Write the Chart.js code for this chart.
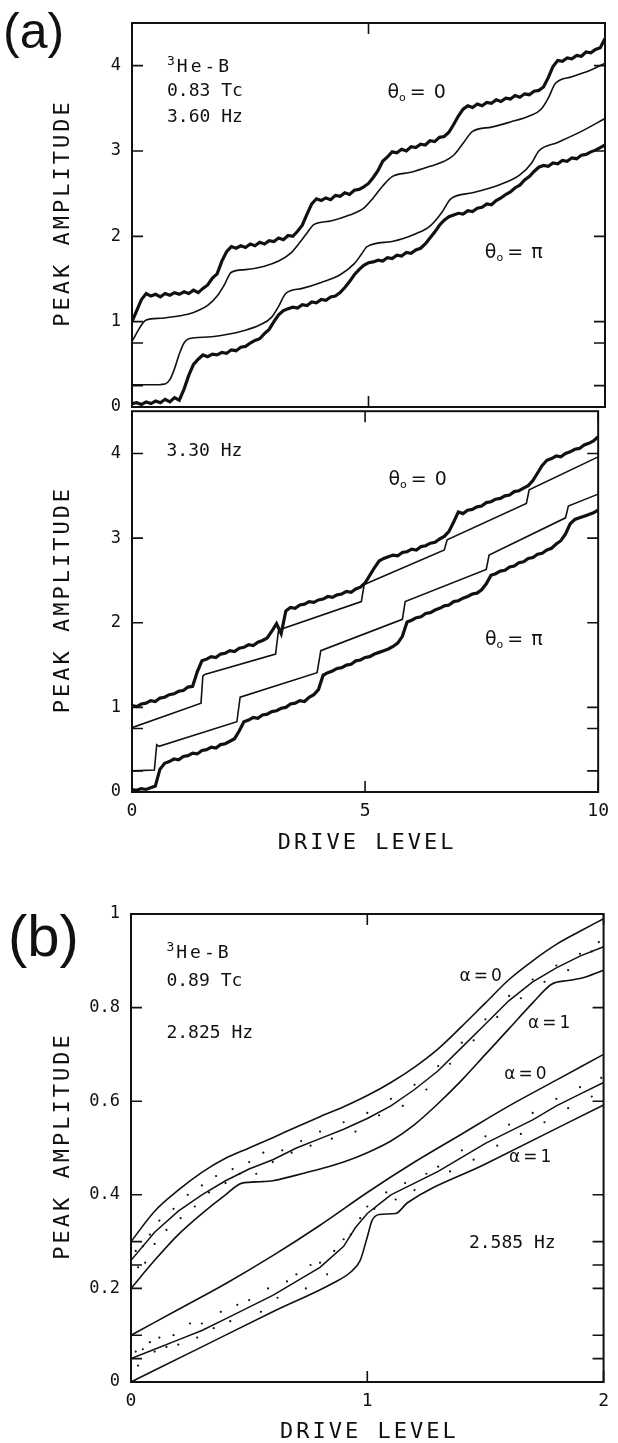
<!DOCTYPE html>
<html>
<head>
<meta charset="utf-8">
<title>Peak amplitude vs drive level</title>
<script src="https://cdn.jsdelivr.net/npm/chart.js@4.4.1/dist/chart.umd.min.js"></script>
<style>
  html, body { margin: 0; padding: 0; background: #fff; }
  #wrap { position: relative; width: 618px; height: 1443px; overflow: hidden; }
  canvas { position: absolute; left: 0; }
</style>
</head>
<body>
<div id="wrap">
  <canvas id="a1" width="618" height="430" style="top:0px"></canvas>
  <canvas id="a2" width="618" height="480" style="top:390px"></canvas>
  <canvas id="b" width="618" height="563" style="top:880px"></canvas>
</div>
<script>
// ---------------- data ----------------
// panel (a): drive level of the recorded traces
var driveA = [0,0.1,0.2,0.3,0.4,0.5,0.6,0.7,0.8,0.9,1,1.1,1.2,1.3,1.4,1.5,1.6,1.7,1.8,1.9,
  2,2.1,2.2,2.3,2.4,2.5,2.6,2.7,2.8,2.9,3,3.1,3.2,3.3,3.4,3.5,3.6,3.7,3.8,3.9,
  4,4.1,4.2,4.3,4.4,4.5,4.6,4.7,4.8,4.9,5,5.1,5.2,5.3,5.4,5.5,5.6,5.7,5.8,5.9,
  6,6.1,6.2,6.3,6.4,6.5,6.6,6.7,6.8,6.9,7,7.1,7.2,7.3,7.4,7.5,7.6,7.7,7.8,7.9,
  8,8.1,8.2,8.3,8.4,8.5,8.6,8.7,8.8,8.9,9,9.1,9.2,9.3,9.4,9.5,9.6,9.7,9.8,9.9,10];

// 3.60 Hz, measured
var amp360Zero = [1.00,1.13,1.26,1.33,1.30,1.32,1.29,1.33,1.31,1.34,1.32,1.35,1.33,1.37,1.34,1.39,1.43,1.51,1.56,1.71,
  1.82,1.88,1.86,1.89,1.87,1.91,1.89,1.93,1.91,1.95,1.94,1.98,1.96,2.01,2.00,2.06,2.13,2.26,2.38,2.44,
  2.42,2.45,2.43,2.48,2.47,2.51,2.49,2.54,2.55,2.58,2.62,2.69,2.77,2.88,2.93,2.99,2.98,3.02,3.00,3.05,
  3.04,3.08,3.07,3.12,3.11,3.16,3.17,3.22,3.31,3.41,3.49,3.53,3.51,3.55,3.53,3.57,3.56,3.60,3.58,3.62,
  3.61,3.65,3.63,3.67,3.66,3.70,3.71,3.75,3.86,3.99,4.06,4.05,4.09,4.08,4.12,4.11,4.16,4.15,4.19,4.21,4.32];
var amp360Pi = [0.04,0.05,0.03,0.06,0.04,0.07,0.05,0.09,0.06,0.11,0.08,0.21,0.37,0.50,0.56,0.61,0.59,0.62,0.61,0.64,
  0.63,0.67,0.66,0.70,0.71,0.75,0.78,0.80,0.86,0.91,1.00,1.08,1.13,1.15,1.17,1.16,1.20,1.19,1.23,1.22,
  1.26,1.25,1.29,1.30,1.34,1.40,1.47,1.55,1.61,1.66,1.69,1.70,1.72,1.71,1.75,1.74,1.78,1.77,1.81,1.80,
  1.84,1.86,1.91,1.98,2.05,2.13,2.19,2.23,2.25,2.27,2.26,2.30,2.29,2.33,2.34,2.38,2.37,2.42,2.45,2.49,
  2.52,2.57,2.60,2.66,2.70,2.76,2.81,2.83,2.82,2.86,2.85,2.89,2.88,2.92,2.91,2.95,2.96,2.99,3.01,3.04,3.07];

// 3.60 Hz, calculated
var sim360ZeroX = [0,0.3,0.6,0.9,1.2,1.4,1.6,1.8,1.95,2.1,2.4,2.8,3.1,3.35,3.55,3.7,3.85,4.2,4.6,4.9,
  5.1,5.3,5.5,5.9,6.3,6.6,6.8,7.0,7.2,7.6,8.0,8.4,8.65,8.8,8.95,9.3,9.7,10];
var sim360ZeroY = [0.77,1.02,1.04,1.06,1.09,1.13,1.19,1.30,1.43,1.58,1.61,1.65,1.71,1.80,1.93,2.04,2.14,2.18,2.25,2.33,
  2.45,2.59,2.70,2.75,2.82,2.88,2.95,3.09,3.23,3.28,3.34,3.41,3.49,3.62,3.79,3.87,3.95,4.03];
var sim360PiX = [0,0.4,0.7,0.8,0.9,1.0,1.1,1.2,1.6,2.0,2.4,2.7,2.95,3.1,3.25,3.6,4.0,4.4,4.7,4.85,
  4.97,5.5,6.0,6.3,6.55,6.74,7.2,7.8,8.2,8.45,8.6,9.0,9.5,10];
var sim360PiY = [0.26,0.26,0.27,0.32,0.45,0.62,0.75,0.80,0.82,0.85,0.90,0.96,1.05,1.18,1.33,1.39,1.46,1.55,1.68,1.79,
  1.88,1.94,2.03,2.12,2.28,2.44,2.51,2.61,2.72,2.86,3.00,3.10,3.23,3.38];

// 3.30 Hz, measured
var amp330Zero = [1.02,1.01,1.04,1.05,1.08,1.07,1.11,1.12,1.15,1.16,1.19,1.20,1.24,1.25,1.42,1.55,1.57,1.60,1.59,1.63,
  1.64,1.67,1.66,1.70,1.71,1.74,1.73,1.77,1.79,1.82,1.90,1.99,1.87,2.14,2.18,2.17,2.21,2.22,2.25,2.24,
  2.27,2.28,2.31,2.30,2.33,2.34,2.37,2.36,2.40,2.42,2.47,2.56,2.65,2.73,2.76,2.78,2.80,2.79,2.83,2.84,
  2.87,2.86,2.90,2.91,2.94,2.95,2.99,3.02,3.08,3.19,3.31,3.29,3.33,3.34,3.37,3.38,3.42,3.43,3.46,3.47,
  3.50,3.51,3.55,3.56,3.59,3.62,3.68,3.77,3.86,3.92,3.94,3.97,3.96,4.00,4.02,4.05,4.06,4.10,4.12,4.15,4.20];
var amp330Pi = [0.03,0.02,0.04,0.03,0.05,0.07,0.27,0.34,0.36,0.39,0.38,0.42,0.43,0.46,0.45,0.49,0.50,0.53,0.52,0.56,
  0.57,0.60,0.63,0.72,0.83,0.85,0.88,0.87,0.91,0.92,0.95,0.96,0.99,1.00,1.04,1.05,1.08,1.07,1.12,1.15,
  1.21,1.38,1.41,1.43,1.46,1.47,1.50,1.51,1.55,1.56,1.59,1.60,1.63,1.65,1.67,1.69,1.72,1.76,1.84,2.01,
  2.03,2.06,2.07,2.11,2.12,2.15,2.17,2.20,2.21,2.25,2.26,2.29,2.31,2.34,2.35,2.39,2.46,2.56,2.58,2.61,
  2.62,2.66,2.67,2.71,2.72,2.76,2.77,2.81,2.82,2.86,2.88,2.93,2.97,3.05,3.17,3.22,3.24,3.26,3.28,3.30,3.33];

// 3.30 Hz, calculated (straight runs with sudden steps)
var sim330ZeroX = [0,1.48,1.52,1.56,3.08,3.14,3.18,4.92,4.98,5.02,6.70,6.76,8.46,8.52,10];
var sim330ZeroY = [0.76,1.05,1.37,1.39,1.63,1.90,1.92,2.25,2.45,2.46,2.86,2.98,3.41,3.57,3.96];
var sim330PiX = [0,0.48,0.53,0.58,2.25,2.32,3.97,4.05,5.80,5.86,7.60,7.66,9.30,9.36,10];
var sim330PiY = [0.25,0.26,0.56,0.54,0.83,1.12,1.41,1.67,2.04,2.25,2.63,2.80,3.24,3.38,3.52];

// panel (b)
var driveB = [0,0.1,0.2,0.3,0.4,0.5,0.6,0.7,0.8,0.9,1,1.1,1.2,1.3,1.4,1.5,1.6,1.7,1.8,1.9,2];
var sim2825A0 = [0.30,0.365,0.41,0.448,0.478,0.50,0.522,0.545,0.567,0.588,0.612,0.64,0.673,0.712,0.76,0.81,0.86,0.90,0.935,0.963,0.99];
var amp2825 = [0.26,0.32,0.365,0.40,0.43,0.455,0.475,0.50,0.52,0.54,0.563,0.59,0.625,0.665,0.715,0.765,0.815,0.855,0.885,0.91,0.93];
var sim2825A1X = [0,0.1,0.2,0.3,0.4,0.47,0.55,0.6,0.7,0.8,0.9,1.0,1.1,1.2,1.3,1.4,1.5,1.6,1.7,1.78,1.85,1.9,2];
var sim2825A1Y = [0.20,0.26,0.315,0.36,0.40,0.425,0.428,0.43,0.442,0.455,0.47,0.49,0.515,0.55,0.595,0.645,0.70,0.755,0.81,0.85,0.858,0.862,0.88];
var sim2585A0X = [0,0.2,0.4,0.6,0.8,1.0,1.2,1.4,1.6,1.8,2];
var sim2585A0Y = [0.10,0.155,0.21,0.27,0.335,0.405,0.47,0.53,0.59,0.645,0.70];
var amp2585X = [0,0.1,0.2,0.3,0.4,0.5,0.6,0.7,0.8,0.9,0.95,1.0,1.05,1.1,1.2,1.3,1.4,1.5,1.6,1.7,1.8,1.9,2];
var amp2585Y = [0.05,0.07,0.09,0.11,0.135,0.16,0.185,0.215,0.245,0.29,0.33,0.36,0.38,0.40,0.425,0.45,0.48,0.51,0.535,0.56,0.59,0.615,0.64];
var sim2585A1X = [0,0.3,0.6,0.85,0.93,0.97,1.0,1.02,1.05,1.12,1.17,1.5,2];
var sim2585A1Y = [0,0.075,0.15,0.21,0.235,0.26,0.31,0.345,0.358,0.36,0.383,0.466,0.592];

// scattered readings around the two measured runs
var dots2825X = [0.02,0.03,0.05,0.06,0.08,0.1,0.12,0.15,0.18,0.21,0.24,0.27,0.3,0.33,0.36,0.4,0.43,0.46,0.5,0.53,
  0.56,0.6,0.64,0.68,0.72,0.76,0.8,0.85,0.9,0.95,1.0,1.05,1.1,1.15,1.2,1.25,1.3,1.35,1.4,1.45,
  1.5,1.55,1.6,1.65,1.7,1.75,1.8,1.85,1.9,1.95,1.98];
var dots2825Y = [0.28,0.245,0.29,0.255,0.315,0.295,0.345,0.325,0.37,0.35,0.40,0.375,0.42,0.405,0.44,0.425,0.455,0.445,0.47,0.445,
  0.49,0.47,0.495,0.49,0.515,0.505,0.535,0.52,0.555,0.535,0.575,0.57,0.605,0.59,0.635,0.625,0.675,0.68,0.725,0.73,
  0.775,0.78,0.825,0.82,0.86,0.855,0.89,0.88,0.915,0.92,0.94];
var dots2585X = [0.02,0.03,0.05,0.08,0.1,0.12,0.15,0.18,0.2,0.25,0.28,0.3,0.35,0.38,0.42,0.45,0.5,0.55,0.58,0.62,
  0.66,0.7,0.74,0.76,0.8,0.83,0.86,0.9,0.93,0.97,1.0,1.03,1.08,1.12,1.16,1.2,1.25,1.3,1.35,1.4,
  1.45,1.5,1.55,1.6,1.65,1.7,1.75,1.8,1.85,1.9,1.95,1.99];
var dots2585Y = [0.065,0.035,0.07,0.085,0.065,0.095,0.075,0.1,0.08,0.125,0.095,0.125,0.115,0.15,0.13,0.165,0.175,0.15,0.2,0.18,
  0.215,0.23,0.2,0.25,0.255,0.23,0.28,0.305,0.315,0.35,0.375,0.37,0.405,0.39,0.425,0.41,0.445,0.46,0.45,0.495,
  0.475,0.525,0.505,0.55,0.53,0.575,0.555,0.605,0.585,0.63,0.61,0.65];

// axis ticks
var yTicksA = [0, 0.25, 0.75, 1, 2, 3, 4];
var yLabelsA = [0, 1, 2, 3, 4];
var xTicksA = [0, 5, 10];
var yTicksB = [0, 0.05, 0.1, 0.2, 0.25, 0.3, 0.4, 0.6, 0.8, 1];
var yLabelsB = [0, 0.2, 0.4, 0.6, 0.8, 1];
var xTicksB = [0, 1, 2];

// ---------------- drawing helpers ----------------
var MONO = "'DejaVu Sans Mono', monospace";
var SANS = "'DejaVu Sans', sans-serif";
var INK = '#111';

function pairs(xs, ys) {
  return xs.map(function (x, i) { return {x: x, y: ys[i]}; });
}

function measured(xs, ys, w) {
  return {data: pairs(xs, ys), borderColor: INK, borderWidth: w, pointRadius: 0, tension: 0};
}

function calculated(xs, ys, smooth) {
  return {data: pairs(xs, ys), borderColor: INK, borderWidth: 1.6, pointRadius: 0,
    cubicInterpolationMode: smooth ? 'monotone' : 'default', tension: 0};
}

function dots(xs, ys) {
  return {data: pairs(xs, ys), showLine: false, pointRadius: 1.1, pointBackgroundColor: INK,
    pointBorderWidth: 0};
}

// frame round the plot with short inward ticks on all four sides
var frame = {
  id: 'frame',
  afterDatasetsDraw: function (chart) {
    var ctx = chart.ctx, a = chart.chartArea, sx = chart.scales.x, sy = chart.scales.y;
    var len = 11;
    ctx.save();
    ctx.strokeStyle = INK;
    ctx.lineWidth = 2;
    ctx.strokeRect(a.left, a.top, a.right - a.left, a.bottom - a.top);
    ctx.lineWidth = 1.6;
    ctx.beginPath();
    sy.ticks.forEach(function (t) {
      var py = sy.getPixelForValue(t.value);
      ctx.moveTo(a.left, py); ctx.lineTo(a.left + len, py);
      ctx.moveTo(a.right, py); ctx.lineTo(a.right - len, py);
    });
    sx.ticks.forEach(function (t) {
      var px = sx.getPixelForValue(t.value);
      ctx.moveTo(px, a.top); ctx.lineTo(px, a.top + len);
      ctx.moveTo(px, a.bottom); ctx.lineTo(px, a.bottom - len);
    });
    ctx.stroke();
    ctx.restore();
  }
};

// text inside the plot, placed in data units
function notesFor(items) {
  return {
    id: 'notes',
    afterDatasetsDraw: function (chart) {
      var ctx = chart.ctx, sx = chart.scales.x, sy = chart.scales.y;
      items.forEach(function (n) {
        var px = sx.getPixelForValue(n.x), py = sy.getPixelForValue(n.y);
        ctx.save();
        ctx.fillStyle = INK;
        ctx.textBaseline = 'middle';
        ctx.textAlign = 'left';
        n.parts.forEach(function (p) {
          var size = p.size || n.size || 18;
          var family = p.family || n.family || MONO;
          ctx.font = size + 'px ' + family;
          ctx.letterSpacing = (p.spacing || n.spacing || 0) + 'px';
          ctx.fillText(p.t, px, py + (p.shift || 0));
          px += ctx.measureText(p.t).width + (p.gap || 0);
        });
        ctx.restore();
      });
    }
  };
}

// axis titles and the panel letter
function titlesFor(t) {
  return {
    id: 'titles',
    afterDraw: function (chart) {
      var ctx = chart.ctx, a = chart.chartArea;
      ctx.save();
      ctx.fillStyle = INK;
      ctx.textAlign = 'center';
      ctx.textBaseline = 'middle';
      ctx.font = '22px ' + MONO;
      ctx.letterSpacing = '3px';
      if (t.yTitle) {
        ctx.save();
        ctx.translate(63, (a.top + a.bottom) / 2);
        ctx.rotate(-Math.PI / 2);
        ctx.fillText(t.yTitle, 2, 0);
        ctx.restore();
      }
      if (t.xTitle) {
        ctx.fillText(t.xTitle, (a.left + a.right) / 2 + 2, a.bottom + t.xTitleGap);
      }
      if (t.panel) {
        ctx.letterSpacing = '0px';
        ctx.textAlign = 'left';
        ctx.font = t.panelSize + "px 'Liberation Sans', Arial, sans-serif";
        ctx.fillText(t.panel, t.panelX, t.panelY);
      }
      ctx.restore();
    }
  };
}

function yScale(max, ticks, labelled, fmt, width) {
  return {
    type: 'linear', min: 0, max: max,
    afterBuildTicks: function (s) { s.ticks = ticks.map(function (v) { return {value: v}; }); },
    afterFit: function (s) { s.width = width; },
    grid: {display: false, drawTicks: false},
    border: {display: false},
    ticks: {
      autoSkip: false, padding: 11, color: INK, font: {family: MONO, size: 17},
      callback: function (v) { return labelled.indexOf(v) >= 0 ? fmt(v) : ''; }
    }
  };
}

function xScale(max, ticks, showLabels, height) {
  return {
    type: 'linear', min: 0, max: max,
    afterBuildTicks: function (s) { s.ticks = ticks.map(function (v) { return {value: v}; }); },
    afterFit: function (s) { s.height = height; },
    grid: {display: false, drawTicks: false},
    border: {display: false},
    ticks: {display: showLabels, autoSkip: false, maxRotation: 0, padding: 9, color: INK,
      font: {family: MONO, size: 18}}
  };
}

function baseOptions(padding, scales) {
  return {
    responsive: false, animation: false, events: [],
    layout: {padding: padding},
    scales: scales,
    plugins: {legend: {display: false}, tooltip: {enabled: false}}
  };
}

function theta(x, y, rhs) {
  return {x: x, y: y, family: SANS, size: 19, parts: [
    {t: '\u03b8'}, {t: 'o', size: 11, shift: 5, gap: 4}, {t: '= ' + rhs, spacing: 1}
  ]};
}

function alpha(x, y, rhs) {
  return {x: x, y: y, family: SANS, size: 17, spacing: 3, parts: [{t: '\u03b1=' + rhs}]};
}

function heB(x, y) {
  return {x: x, y: y, parts: [{t: '3', size: 13, shift: -6, gap: 2}, {t: 'He-B', spacing: 3}]};
}

function intLabel(v) { return String(v); }
function fracLabel(v) { return (v === 0 || v === 1) ? String(v) : v.toFixed(1); }

// ---------------- (a) 3.60 Hz ----------------
new Chart(document.getElementById('a1'), {
  type: 'line',
  data: {datasets: [
    measured(driveA, amp360Zero, 3.2),
    calculated(sim360ZeroX, sim360ZeroY, true),
    calculated(sim360PiX, sim360PiY, true),
    measured(driveA, amp360Pi, 3.2)
  ]},
  options: baseOptions({top: 23, right: 13, bottom: 23, left: 0}, {
    x: xScale(10, xTicksA, false, 0),
    y: yScale(4.5, yTicksA, yLabelsA, intLabel, 132)
  }),
  plugins: [frame, notesFor([
    heB(0.74, 3.98),
    {x: 0.74, y: 3.70, parts: [{t: '0.83 Tc'}]},
    {x: 0.74, y: 3.39, parts: [{t: '3.60 Hz'}]},
    theta(5.4, 3.68, '0'),
    theta(7.46, 1.8, '\u03c0')
  ]), titlesFor({yTitle: 'PEAK AMPLITUDE', panel: '(a)', panelSize: 50, panelX: 3, panelY: 34})]
});

// ---------------- (a) 3.30 Hz ----------------
new Chart(document.getElementById('a2'), {
  type: 'line',
  data: {datasets: [
    measured(driveA, amp330Zero, 3.2),
    calculated(sim330ZeroX, sim330ZeroY, false),
    calculated(sim330PiX, sim330PiY, false),
    measured(driveA, amp330Pi, 3.2)
  ]},
  options: baseOptions({top: 17, right: 13, bottom: 38, left: 0}, {
    x: xScale(10, xTicksA, true, 40),
    y: yScale(4.5, yTicksA, yLabelsA, intLabel, 132)
  }),
  plugins: [frame, notesFor([
    {x: 0.74, y: 4.02, parts: [{t: '3.30 Hz'}]},
    theta(5.5, 3.69, '0'),
    theta(7.57, 1.8, '\u03c0')
  ]), titlesFor({yTitle: 'PEAK AMPLITUDE', xTitle: 'DRIVE LEVEL', xTitleGap: 51})]
});

// ---------------- (b) ----------------
new Chart(document.getElementById('b'), {
  type: 'line',
  data: {datasets: [
    calculated(driveB, sim2825A0, true),
    measured(driveB, amp2825, 1.5),
    dots(dots2825X, dots2825Y),
    calculated(sim2825A1X, sim2825A1Y, true),
    calculated(sim2585A0X, sim2585A0Y, true),
    measured(amp2585X, amp2585Y, 1.5),
    dots(dots2585X, dots2585Y),
    calculated(sim2585A1X, sim2585A1Y, true)
  ]},
  options: baseOptions({top: 34, right: 11, bottom: 31, left: 0}, {
    x: xScale(2, xTicksB, true, 30),
    y: yScale(1, yTicksB, yLabelsB, fracLabel, 131)
  }),
  plugins: [frame, notesFor([
    heB(0.15, 0.915),
    {x: 0.15, y: 0.856, parts: [{t: '0.89 Tc'}]},
    {x: 0.15, y: 0.745, parts: [{t: '2.825 Hz'}]},
    alpha(1.39, 0.866, '0'),
    alpha(1.68, 0.765, '1'),
    alpha(1.58, 0.656, '0'),
    alpha(1.60, 0.48, '1'),
    {x: 1.43, y: 0.296, parts: [{t: '2.585 Hz'}]}
  ]), titlesFor({yTitle: 'PEAK AMPLITUDE', xTitle: 'DRIVE LEVEL', xTitleGap: 50,
    panel: '(b)', panelSize: 58, panelX: 8, panelY: 60})]
});
</script>
</body>
</html>
